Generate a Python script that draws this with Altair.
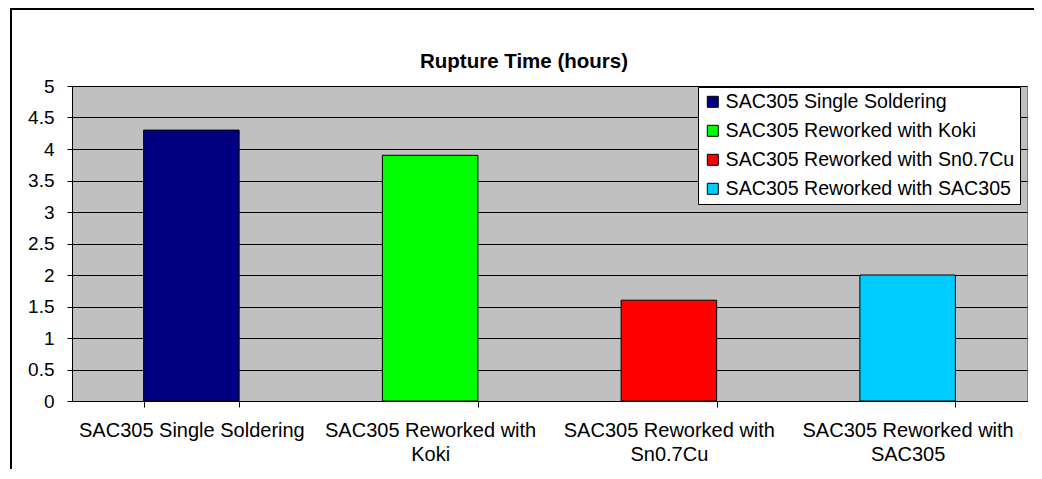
import altair as alt
import pandas as pd

categories = [
    "SAC305 Single Soldering",
    "SAC305 Reworked with Koki",
    "SAC305 Reworked with Sn0.7Cu",
    "SAC305 Reworked with SAC305",
]
values = [4.3, 3.9, 1.6, 2.0]
colors = ["#000080", "#00FF00", "#FF0000", "#00CCFF"]
y_ticks = [0, 0.5, 1, 1.5, 2, 2.5, 3, 3.5, 4, 4.5, 5]
chart_title = "Rupture Time (hours)"

df = pd.DataFrame({"category": categories, "value": values})

FONT = "Liberation Sans"

bars = alt.Chart(df).mark_bar(stroke="black", strokeWidth=1).encode(
    x=alt.X(
        "category:N",
        sort=categories,
        scale=alt.Scale(paddingInner=0.6, paddingOuter=0.3),
        axis=alt.Axis(
            title=None,
            labelAngle=0,
            tickBand="extent",
            tickSize=6,
            tickColor="black",
            domainColor="black",
            labelPadding=13,
            labelFont=FONT,
            labelFontSize=20,
            labelColor="black",
            labelLineHeight=24,
            labelBaseline="top",
            labelLimit=400,
            labelExpr="datum.label == 'SAC305 Single Soldering' ? datum.label : split(replace(datum.label, 'with ', 'with|'), '|')",
        ),
    ),
    y=alt.Y(
        "value:Q",
        scale=alt.Scale(domain=[0, 5], nice=False),
        axis=alt.Axis(
            title=None,
            values=y_ticks,
            format=".1~f",
            tickSize=5,
            tickColor="black",
            domainColor="black",
            gridColor="black",
            gridOpacity=1,
            gridWidth=1,
            labelPadding=13,
            labelFont=FONT,
            labelFontSize=19,
            labelColor="black",
        ),
    ),
    color=alt.Color(
        "category:N",
        scale=alt.Scale(domain=categories, range=colors),
        legend=alt.Legend(
            title=None,
            orient="none",
            legendX=626,
            legendY=1,
            symbolType="square",
            symbolSize=121,
            symbolStrokeColor="black",
            symbolStrokeWidth=1,
            symbolOpacity=1,
            labelFont=FONT,
            labelFontSize=19.6,
            labelColor="black",
            labelLimit=400,
            labelOffset=3,
            rowPadding=8,
            padding=5,
            fillColor="white",
            strokeColor="black",
            cornerRadius=0,
        ),
    ),
)

one_row = alt.Data(values=[{"f": 1}])
frame_top = alt.Chart(one_row).mark_rule(color="black", strokeWidth=2).encode(
    x=alt.value(-61), x2=alt.value(970), y=alt.value(-77)
)
frame_left = alt.Chart(one_row).mark_rule(color="black", strokeWidth=2).encode(
    x=alt.value(-61), y=alt.value(-78), y2=alt.value(400)
)
title_text = alt.Chart(one_row).mark_text(
    font=FONT, fontSize=20.5, fontWeight="bold", color="black",
    align="center", baseline="alphabetic",
).encode(
    x=alt.value(452), y=alt.value(-18), text=alt.value(chart_title)
)

chart = alt.layer(bars, frame_top, frame_left, title_text).properties(
    width=955,
    height=315,
    autosize=alt.AutoSizeParams(type="none"),
    padding={"left": 64, "top": 78, "right": 7, "bottom": 68},
).configure(
    background="white",
    view=alt.ViewConfig(fill="#C0C0C0", stroke="#808080", strokeWidth=1),
)

chart.save("out.html", embed_options={"renderer": "svg", "actions": False})
